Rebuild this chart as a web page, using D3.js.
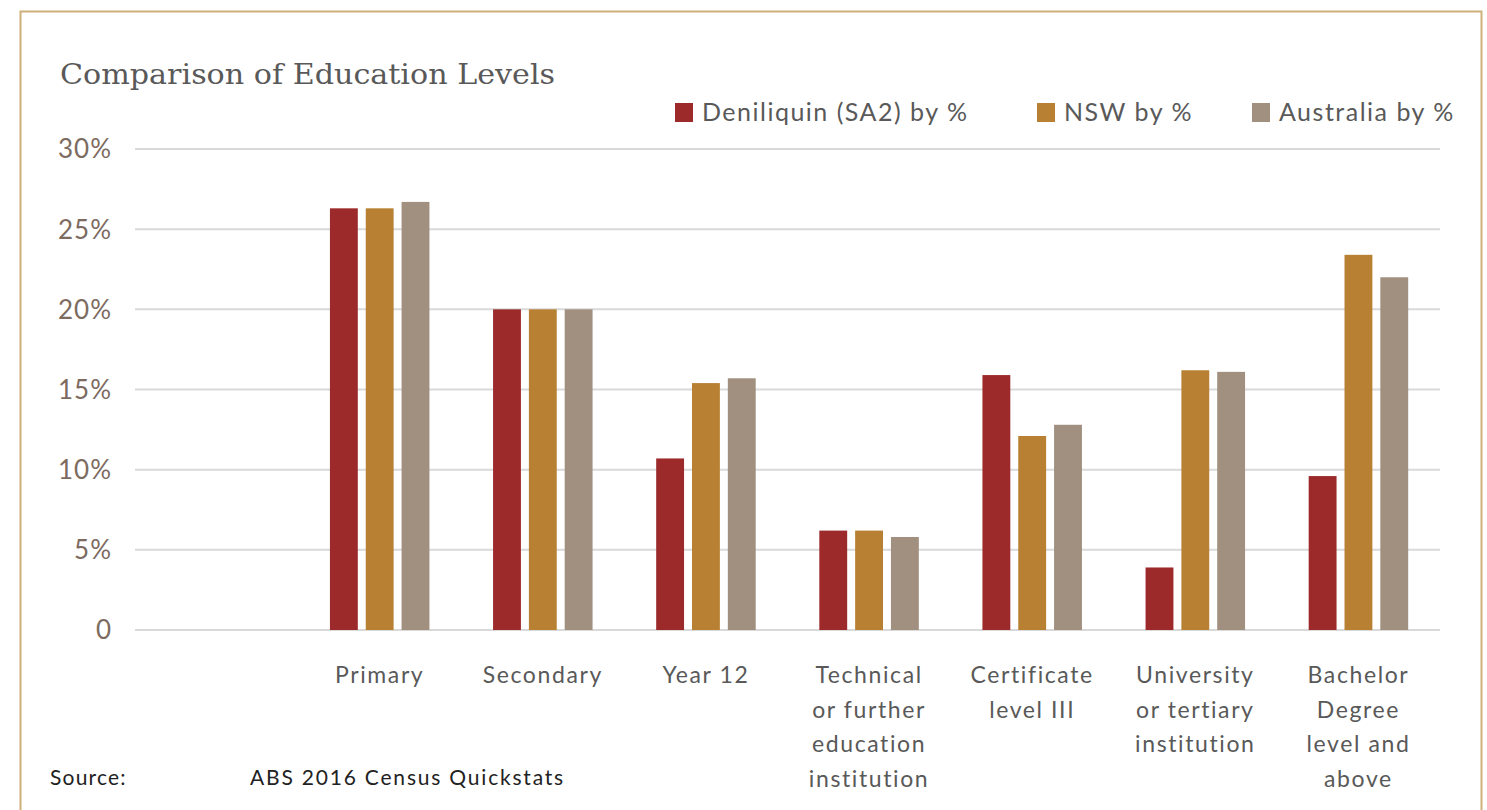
<!DOCTYPE html>
<html>
<head>
<meta charset="utf-8">
<script src="https://cdn.jsdelivr.net/npm/d3@7"></script>
<style>
  body { margin: 0; background: #fff; }
  svg { display: block; }
</style>
</head>
<body>
<div id="main"></div>
<script>
(function() {
  // first slot is blank in the original chart
  const categories = ["", "Primary", "Secondary", "Year 12",
    "Technical\nor further\neducation\ninstitution",
    "Certificate\nlevel III",
    "University\nor tertiary\ninstitution",
    "Bachelor\nDegree\nlevel and\nabove"];
  const seriesNames = ["Deniliquin (SA2) by %", "NSW by %", "Australia by %"];
  const deniliquin = [null, 26.3, 20.0, 10.7, 6.2, 15.9, 3.9, 9.6];
  const nsw = [null, 26.3, 20.0, 15.4, 6.2, 12.1, 16.2, 23.4];
  const australia = [null, 26.7, 20.0, 15.7, 5.8, 12.8, 16.1, 22.0];
  const yTicks = [0, 5, 10, 15, 20, 25, 30];
  const colors = ["#9d2a2b", "#b88033", "#a18f7f"];

  const width = 1487, height = 810;
  const plot = { left: 135, right: 1440, top: 149, bottom: 630 };
  const sans = "Lato, 'DejaVu Sans', sans-serif";

  const svg = d3.select("#main")
    .append("svg")
    .attr("width", width)
    .attr("height", height);

  // frame
  svg.append("rect")
    .attr("x", 20.5).attr("y", 11.5)
    .attr("width", 1461).attr("height", 820)
    .attr("fill", "none")
    .attr("stroke", "#cdb07a")
    .attr("stroke-width", 2);

  const x0 = d3.scaleBand()
    .domain(categories)
    .range([plot.left, plot.right])
    .paddingInner(0.39)
    .paddingOuter(0.195);

  const x1 = d3.scaleBand()
    .domain(seriesNames)
    .range([0, x0.bandwidth()])
    .paddingInner(0.222);

  const y = d3.scaleLinear()
    .domain([0, 30])
    .range([plot.bottom, plot.top]);

  // gridlines
  svg.append("g")
    .selectAll("line")
    .data(yTicks)
    .join("line")
    .attr("x1", plot.left)
    .attr("x2", plot.right)
    .attr("y1", d => y(d))
    .attr("y2", d => y(d))
    .attr("stroke", "#d9d9d9")
    .attr("stroke-width", 2);

  // y tick labels
  svg.append("g")
    .selectAll("text")
    .data(yTicks)
    .join("text")
    .attr("x", 112)
    .attr("y", d => y(d))
    .attr("dy", "0.36em")
    .attr("text-anchor", "end")
    .attr("font-family", sans)
    .attr("font-size", "26px")
    .attr("letter-spacing", "1px")
    .attr("fill", "#7d6b5f")
    .text(d => d === 0 ? "0" : d + "%");

  const seriesData = [deniliquin, nsw, australia];
  const rows = categories.map((c, i) => ({
    cat: c,
    vals: seriesNames.map((s, j) => ({ name: s, value: seriesData[j][i], color: colors[j] }))
  }));

  const groups = svg.append("g")
    .selectAll("g")
    .data(rows)
    .join("g")
    .attr("transform", d => `translate(${x0(d.cat)},0)`);

  groups.selectAll("rect")
    .data(d => d.vals.filter(v => v.value != null))
    .join("rect")
    .attr("x", d => x1(d.name))
    .attr("width", x1.bandwidth())
    .attr("y", d => y(d.value))
    .attr("height", d => y(0) - y(d.value))
    .attr("fill", d => d.color);

  // category labels
  const catLabels = svg.append("g")
    .selectAll("text")
    .data(categories)
    .join("text")
    .attr("x", d => x0(d) + x0.bandwidth() / 2)
    .attr("y", 683)
    .attr("text-anchor", "middle")
    .attr("font-family", sans)
    .attr("font-size", "23px")
    .attr("letter-spacing", "1.6px")
    .attr("fill", "#595959");

  catLabels.each(function(d) {
    const lines = d.split("\n");
    d3.select(this).selectAll("tspan")
      .data(lines)
      .join("tspan")
      .attr("x", x0(d) + x0.bandwidth() / 2)
      .attr("dy", (l, i) => i === 0 ? 0 : 34.5)
      .text(l => l);
  });

  // title
  svg.append("text")
    .attr("x", 60)
    .attr("y", 84)
    .attr("font-family", "'DejaVu Serif', serif")
    .attr("font-size", "28px")
    .attr("textLength", 495)
    .attr("lengthAdjust", "spacingAndGlyphs")
    .attr("fill", "#595959")
    .text("Comparison of Education Levels");

  // legend
  const legendX = [675, 1037, 1252];
  const legend = svg.append("g")
    .selectAll("g")
    .data(seriesNames)
    .join("g")
    .attr("transform", (d, i) => `translate(${legendX[i]},103)`);

  legend.append("rect")
    .attr("width", 18)
    .attr("height", 19)
    .attr("fill", (d, i) => colors[i]);

  legend.append("text")
    .attr("x", 27)
    .attr("y", 18)
    .attr("font-family", sans)
    .attr("font-size", "25px")
    .attr("letter-spacing", "1.5px")
    .attr("fill", "#595959")
    .text(d => d);

  // source note
  svg.append("text")
    .attr("x", 50)
    .attr("y", 785)
    .attr("font-family", sans)
    .attr("font-size", "21px")
    .attr("letter-spacing", "1.2px")
    .attr("fill", "#222")
    .text("Source:");

  svg.append("text")
    .attr("x", 250)
    .attr("y", 785)
    .attr("font-family", sans)
    .attr("font-size", "21px")
    .attr("letter-spacing", "1.8px")
    .attr("fill", "#222")
    .text("ABS 2016 Census Quickstats");
})();
</script>
</body>
</html>
